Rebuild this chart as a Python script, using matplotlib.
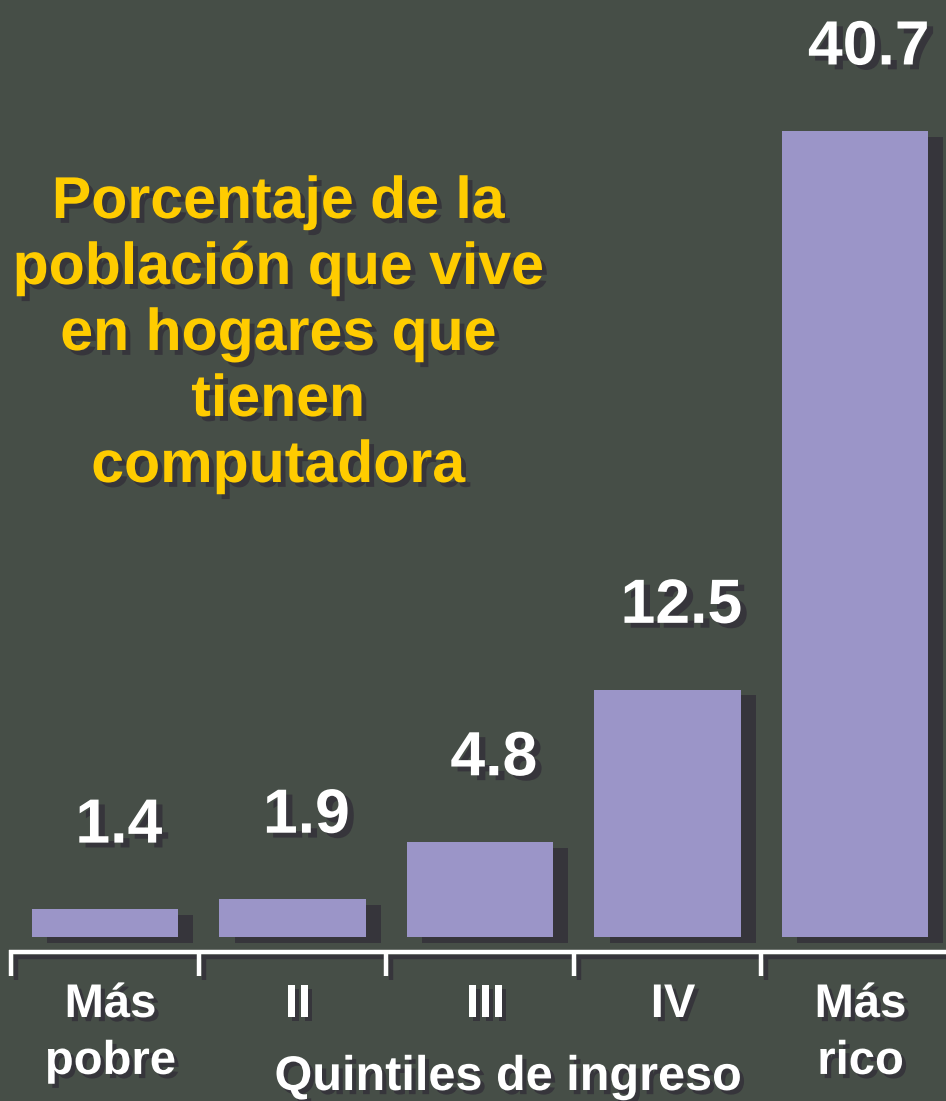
import matplotlib
matplotlib.use("Agg")
import matplotlib.pyplot as plt
import matplotlib.patheffects as pe
import numpy as np

# ---- data ----
categories = ["Más\npobre", "II", "III", "IV", "Más\nrico"]
values = [1.4, 1.9, 4.8, 12.5, 40.7]
value_labels = ["1.4", "1.9", "4.8", "12.5", "40.7"]
title_lines = ["Porcentaje de la", "población que vive", "en hogares que", "tienen", "computadora"]
xlabel = "Quintiles de ingreso"

# ---- style ----
BG = "#464E47"
BAR = "#9B95C8"
SHADOW = "#36353B"
YELLOW = "#FFCC00"
WHITE = "#FFFFFF"
FONT = "Liberation Sans"

W, H = 946, 1101
fig = plt.figure(figsize=(W / 100, H / 100), dpi=100, facecolor=BG)
ax = fig.add_axes([0, 0, 1, 1])
ax.set_facecolor(BG)
ax.axis("off")

# pixel mapping (bar center 0 at px 105, spacing 187.5 px; baseline px 937, 19.8 px/unit)
ax.set_xlim((0 - 105) / 187.5, (W - 105) / 187.5)
ax.set_ylim((937 - H) / 19.8, 937 / 19.8)

x = np.arange(len(values))
bar_shadow = [pe.withSimplePatchShadow(offset=(11, -4), shadow_rgbFace=SHADOW, alpha=1)]
ax.bar(x, values, width=0.78, color=BAR, edgecolor="none", path_effects=bar_shadow, zorder=2)

val_shadow = [pe.withSimplePatchShadow(offset=(4.5, -3.5), shadow_rgbFace=SHADOW, alpha=1)]
txt_shadow = [pe.withSimplePatchShadow(offset=(3.5, -3.5), shadow_rgbFace=SHADOW, alpha=1)]
cat_shadow = [pe.withSimplePatchShadow(offset=(3, -3), shadow_rgbFace=SHADOW, alpha=1)]
line_shadow = [pe.SimpleLineShadow(offset=(3.5, -3.5), shadow_color=SHADOW, alpha=1), pe.Normal()]

# value labels
for xi, v, lab in zip(x, values, value_labels):
    ax.annotate(lab, (xi, v), xytext=(10, 48), textcoords="offset points",
                ha="center", va="baseline", fontsize=45, fontweight="bold",
                family=FONT, color=WHITE, path_effects=val_shadow, zorder=3)

# axis bracket
y_line = -0.76
y_tick = -1.95
xl = ax.get_xlim()
ticks = x - 0.5
ax.plot([ticks[0] - 0.01, xl[1] + 0.1], [y_line, y_line], color=WHITE, lw=3.2,
        solid_capstyle="butt", path_effects=line_shadow, zorder=3)
for t in ticks:
    ax.plot([t, t], [y_line + 0.08, y_tick], color=WHITE, lw=3.2,
            solid_capstyle="butt", path_effects=line_shadow, zorder=3)

# category labels
for xi, cat in zip(x, categories):
    for j, line in enumerate(cat.split("\n")):
        ax.annotate(line, (xi, (937 - 1017) / 19.8), xytext=(4, -41 * j),
                    textcoords="offset points", ha="center", va="baseline",
                    fontsize=34, fontweight="bold", family=FONT, color=WHITE,
                    path_effects=cat_shadow, zorder=3)

# x axis title
fig.text(508 / W, 1 - 1090 / H, xlabel, ha="center", va="baseline", fontsize=35,
         fontweight="bold", family=FONT, color=WHITE, path_effects=cat_shadow)

# title block
for j, line in enumerate(title_lines):
    fig.text(278 / W, 1 - (218 + 66 * j) / H, line, ha="center", va="baseline",
             fontsize=42.5, fontweight="bold", family=FONT, color=YELLOW,
             path_effects=txt_shadow)

fig.savefig("out.png", dpi=100, facecolor=BG)
